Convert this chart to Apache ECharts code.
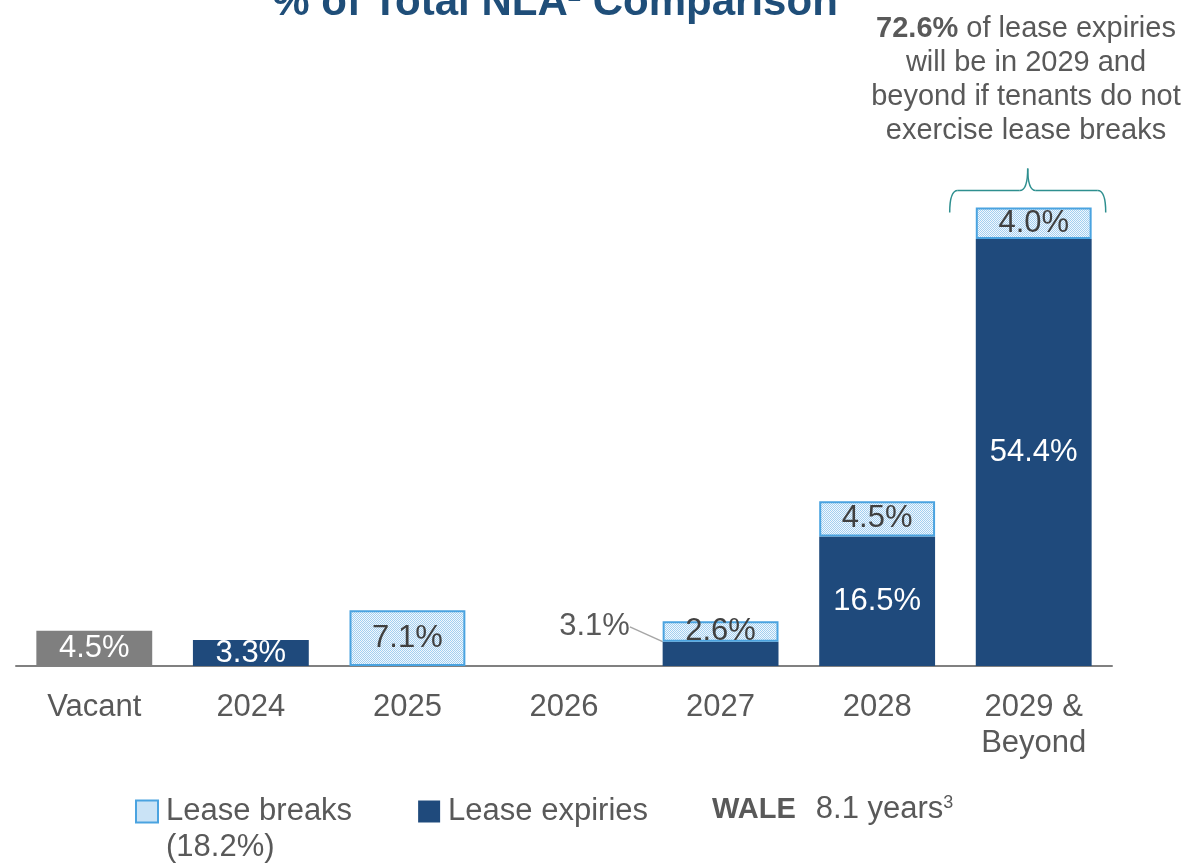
<!DOCTYPE html>
<html>
<head>
<meta charset="utf-8">
<script src="https://cdn.jsdelivr.net/npm/echarts@6/dist/echarts.min.js"></script>
<style>
html,body{margin:0;padding:0;background:#fff;}
#main{width:1181px;height:864px;}
</style>
</head>
<body>
<div id="main"></div>
<script>
var categories = ['Vacant', '2024', '2025', '2026', '2027', '2028', '2029 &\nBeyond'];
var vacant = [4.5, '-', '-', '-', '-', '-', '-'];
var expiries = ['-', 3.3, '-', '-', 3.1, 16.5, 54.4];
var breaks = ['-', '-', 7.1, '-', 2.6, 4.5, 4.0];
var breaksTotal = 18.2;
var expiryTotal2029 = 72.6;
var waleYears = 8.1;

var FONT = '"Liberation Sans", Arial, sans-serif';
var GREY_TXT = '#595959';
var DARK = '#1f4a7c';
var FS = 31;

function makePattern() {
  var c = document.createElement('canvas');
  c.width = 2; c.height = 2;
  var ctx = c.getContext('2d');
  ctx.fillStyle = '#f2f8fd'; ctx.fillRect(0, 0, 2, 2);
  ctx.fillStyle = '#a3cff0';
  ctx.fillRect(0, 0, 1, 1); ctx.fillRect(1, 1, 1, 1);
  return c;
}
var pattern = {image: makePattern(), repeat: 'repeat'};

var chart = echarts.init(document.getElementById('main'));

function fmt(p) { return p.value.toFixed(1) + '%'; }

var expData = expiries.map(function (v, i) {
  if (i === 4) {
    return {
      value: v,
      label: {color: GREY_TXT},
      labelLine: {show: true, lineStyle: {color: '#a6a6a6', width: 1.5}}
    };
  }
  return v;
});

var option = {
  animation: false,
  textStyle: {fontFamily: FONT},
  grid: {left: 16, right: 69, top: 195, bottom: 198},
  xAxis: {
    type: 'category',
    data: categories,
    axisLine: {lineStyle: {color: '#808080', width: 2}},
    axisTick: {show: false},
    axisLabel: {color: GREY_TXT, fontSize: FS, fontFamily: FONT, margin: 23, lineHeight: 36, interval: 0}
  },
  yAxis: {
    type: 'value', min: 0, max: 60, show: false,
    splitLine: {show: false}
  },
  legend: {
    data: ['Lease breaks', 'Lease expiries'],
    left: 130, top: 791,
    itemWidth: 22, itemHeight: 22, itemGap: 66,
    icon: 'rect',
    textStyle: {color: GREY_TXT, fontSize: FS, fontFamily: FONT, padding: [0, 0, 0, 3]}
  },
  series: [
    {
      name: 'Vacant', type: 'bar', stack: 'a', barWidth: '74%',
      data: vacant,
      itemStyle: {color: '#7f7f7f'},
      label: {show: true, position: 'inside', color: '#fff', fontSize: FS, fontFamily: FONT, formatter: fmt}
    },
    {
      name: 'Lease expiries', type: 'bar', stack: 'a', barWidth: '74%',
      data: expData,
      itemStyle: {color: DARK},
      label: {show: true, position: 'inside', color: '#fff', fontSize: FS, fontFamily: FONT, formatter: fmt},
      labelLayout: function (params) {
        if (params.dataIndex === 4) {
          return {dx: -126, dy: -27};
        }
        return {};
      }
    },
    {
      name: 'Lease breaks', type: 'bar', stack: 'a', barWidth: '74%',
      data: breaks,
      itemStyle: {color: pattern, borderColor: '#4aa3e0', borderWidth: 2},
      label: {show: true, position: 'inside', color: '#404040', fontSize: FS, fontFamily: FONT, formatter: fmt}
    }
  ]
};
chart.setOption(option);

// annotations positioned from the axes
var cx = chart.convertToPixel({xAxisIndex: 0}, categories[6]);
var topY = chart.convertToPixel({yAxisIndex: 0}, expiries[6] + breaks[6]);
var bx = cx - 6, hw = 78, by = topY + 5, bh = 22, r = 8;
var braceStyle = {stroke: '#2e8f8f', lineWidth: 1.5, fill: null};
var brace = [
  {type: 'bezierCurve', shape: {x1: bx - hw, y1: by, x2: bx - hw + r, y2: by - bh, cpx1: bx - hw, cpy1: by - bh}, style: braceStyle},
  {type: 'line', shape: {x1: bx - hw + r, y1: by - bh, x2: bx - r, y2: by - bh}, style: braceStyle},
  {type: 'bezierCurve', shape: {x1: bx - r, y1: by - bh, x2: bx, y2: by - bh - 22, cpx1: bx, cpy1: by - bh}, style: braceStyle},
  {type: 'bezierCurve', shape: {x1: bx, y1: by - bh - 22, x2: bx + r, y2: by - bh, cpx1: bx, cpy1: by - bh}, style: braceStyle},
  {type: 'line', shape: {x1: bx + r, y1: by - bh, x2: bx + hw - r, y2: by - bh}, style: braceStyle},
  {type: 'bezierCurve', shape: {x1: bx + hw - r, y1: by - bh, x2: bx + hw, y2: by, cpx1: bx + hw, cpy1: by - bh}, style: braceStyle}
];

chart.setOption({
  graphic: [
    {
      type: 'text', x: 555, y: 24,
      style: {
        text: '{m|% of Total NLA}{s|2}{m| Comparison}',
        align: 'center', verticalAlign: 'bottom',
        rich: {
          m: {fontSize: 42, fontWeight: 'bold', fill: '#1f4e79', fontFamily: FONT},
          s: {fontSize: 24, fontWeight: 'bold', fill: '#1f4e79', fontFamily: FONT, verticalAlign: 'top'}
        }
      }
    },
    {
      type: 'text', x: 1026, y: 12,
      style: {
        text: '{b|' + expiryTotal2029.toFixed(1) + '%}{n| of lease expiries}\n{n|will be in 2029 and}\n{n|beyond if tenants do not}\n{n|exercise lease breaks}',
        align: 'center', verticalAlign: 'top',
        rich: {
          b: {fontWeight: 'bold', fontSize: 29, fill: GREY_TXT, fontFamily: FONT, lineHeight: 34},
          n: {fontSize: 29, fill: GREY_TXT, fontFamily: FONT, lineHeight: 34}
        }
      }
    },
    {type: 'group', children: brace},
    {
      type: 'text', x: 166, y: 832,
      style: {text: '(' + breaksTotal.toFixed(1) + '%)', fill: GREY_TXT, fontSize: FS, fontFamily: FONT}
    },
    {
      type: 'text', x: 712, y: 794,
      style: {
        text: '{b|WALE}{n|' + waleYears.toFixed(1) + ' years}{s|3}',
        rich: {
          b: {fontWeight: 'bold', fontSize: 29, fill: GREY_TXT, fontFamily: FONT},
          n: {fontSize: FS, fill: GREY_TXT, fontFamily: FONT, padding: [0, 0, 0, 20]},
          s: {fontSize: 18, fill: GREY_TXT, fontFamily: FONT, verticalAlign: 'top'}
        }
      }
    }
  ]
});
</script>
</body>
</html>
